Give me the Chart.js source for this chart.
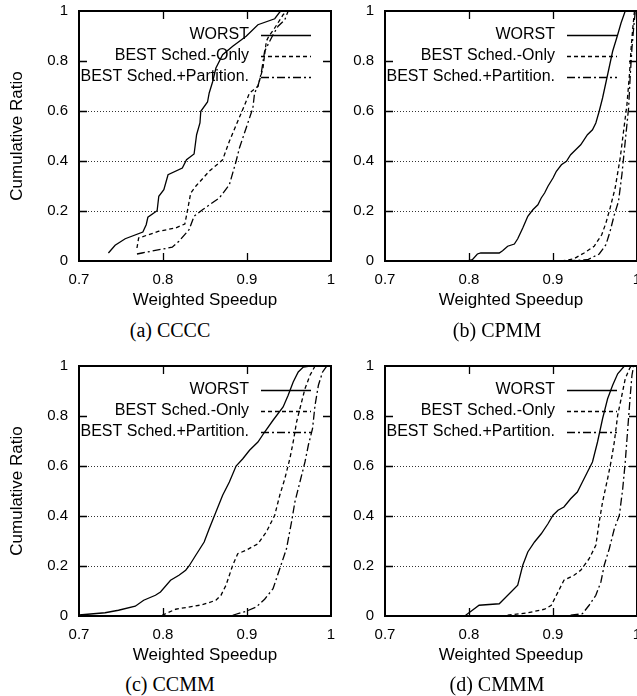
<!DOCTYPE html>
<html>
<head>
<meta charset="utf-8">
<script src="https://cdn.jsdelivr.net/npm/chart.js@4.4.1/dist/chart.umd.min.js"></script>
<style>
    html, body { margin: 0; padding: 0; background: #fff; }
    body { position: relative; width: 637px; height: 696px; overflow: hidden; }
    canvas { position: absolute; }
    .caption {
        position: absolute;
        font-family: "Liberation Serif", "Times New Roman", serif;
        font-size: 20px;
        line-height: 20px;
        color: #000;
        white-space: nowrap;
        transform: translateX(-50%);
    }
</style>
</head>
<body>
<canvas id="chartCCCC" width="342" height="311" style="left:0px;top:0px"></canvas>
<canvas id="chartCPMM" width="342" height="311" style="left:306px;top:0px"></canvas>
<canvas id="chartCCMM" width="342" height="311" style="left:0px;top:355px"></canvas>
<canvas id="chartCMMM" width="342" height="311" style="left:306px;top:355px"></canvas>
<div class="caption" style="left:170px;top:320px">(a) CCCC</div>
<div class="caption" style="left:497px;top:320px">(b) CPMM</div>
<div class="caption" style="left:170px;top:674px">(c) CCMM</div>
<div class="caption" style="left:497px;top:674px">(d) CMMM</div>
<script>
const xTicks = [0.7, 0.8, 0.9, 1];
const yTicks = [0, 0.2, 0.4, 0.6, 0.8, 1];
const gridValues = [0.2, 0.4, 0.6];
const seriesLabels = ['WORST', 'BEST Sched.-Only', 'BEST Sched.+Partition.'];

// (a) CCCC
const ccccWorst = [[0.735, 0.032], [0.743, 0.063], [0.755, 0.089], [0.776, 0.116], [0.780, 0.145], [0.782, 0.175],
    [0.793, 0.201], [0.795, 0.259], [0.801, 0.285], [0.806, 0.345], [0.823, 0.372], [0.828, 0.405], [0.837, 0.428],
    [0.840, 0.505], [0.844, 0.552], [0.845, 0.599], [0.853, 0.636], [0.855, 0.672], [0.859, 0.716], [0.863, 0.772],
    [0.871, 0.825], [0.883, 0.859], [0.899, 0.899], [0.913, 0.945], [0.933, 0.969], [0.939, 0.996], [0.941, 1]];
const ccccSchedOnly = [[0.769, 0.052], [0.771, 0.092], [0.795, 0.119], [0.815, 0.132], [0.826, 0.148], [0.829, 0.199],
    [0.833, 0.272], [0.839, 0.299], [0.855, 0.359], [0.871, 0.405], [0.879, 0.479], [0.889, 0.559], [0.899, 0.639],
    [0.903, 0.672], [0.913, 0.699], [0.919, 0.772], [0.923, 0.879], [0.926, 0.899], [0.933, 0.932], [0.943, 0.985],
    [0.947, 1]];
const ccccSchedPart = [[0.769, 0.028], [0.775, 0.032], [0.811, 0.055], [0.819, 0.079], [0.831, 0.125], [0.837, 0.179],
    [0.847, 0.205], [0.867, 0.252], [0.879, 0.305], [0.887, 0.399], [0.891, 0.452], [0.899, 0.532], [0.907, 0.612],
    [0.909, 0.672], [0.913, 0.699], [0.917, 0.752], [0.921, 0.839], [0.927, 0.879], [0.931, 0.905], [0.937, 0.939],
    [0.945, 0.965], [0.949, 1]];

// (b) CPMM
const cpmmWorst = [[0.798, 0], [0.804, 0.005], [0.810, 0.028], [0.814, 0.032], [0.836, 0.032], [0.840, 0.041],
    [0.846, 0.059], [0.854, 0.068], [0.858, 0.089], [0.864, 0.132], [0.870, 0.179], [0.876, 0.205], [0.882, 0.225],
    [0.886, 0.252], [0.890, 0.272], [0.894, 0.299], [0.900, 0.332], [0.904, 0.359], [0.910, 0.385], [0.916, 0.399],
    [0.921, 0.425], [0.927, 0.445], [0.933, 0.465], [0.941, 0.505], [0.947, 0.525], [0.951, 0.552], [0.955, 0.599],
    [0.959, 0.652], [0.965, 0.745], [0.971, 0.839], [0.977, 0.905], [0.981, 0.952], [0.986, 1]];
const cpmmSchedOnly = [[0.910, 0], [0.925, 0.009], [0.937, 0.032], [0.949, 0.059], [0.958, 0.105], [0.963, 0.152],
    [0.968, 0.212], [0.974, 0.292], [0.980, 0.412], [0.984, 0.519], [0.988, 0.625], [0.991, 0.745], [0.993, 0.852],
    [0.995, 0.932], [0.997, 1]];
const cpmmSchedPart = [[0.917, 0], [0.941, 0.005], [0.955, 0.028], [0.963, 0.065], [0.968, 0.119], [0.973, 0.185],
    [0.978, 0.239], [0.982, 0.345], [0.986, 0.479], [0.990, 0.612], [0.992, 0.745], [0.994, 0.852], [0.996, 0.932],
    [0.998, 1]];

// (c) CCMM
const ccmmWorst = [[0.700, 0.004], [0.731, 0.013], [0.747, 0.023], [0.767, 0.039], [0.777, 0.063], [0.791, 0.083],
    [0.797, 0.096], [0.809, 0.143], [0.819, 0.163], [0.827, 0.183], [0.831, 0.2], [0.839, 0.243], [0.849, 0.296],
    [0.855, 0.349], [0.863, 0.416], [0.871, 0.483], [0.879, 0.536], [0.887, 0.6], [0.895, 0.629], [0.903, 0.663],
    [0.913, 0.696], [0.921, 0.736], [0.931, 0.783], [0.943, 0.836], [0.949, 0.883], [0.955, 0.936], [0.961, 0.976],
    [0.967, 0.996], [0.975, 1]];
const ccmmSchedOnly = [[0.799, 0.003], [0.815, 0.027], [0.847, 0.045], [0.863, 0.063], [0.869, 0.083], [0.875, 0.123],
    [0.883, 0.203], [0.889, 0.249], [0.899, 0.263], [0.913, 0.289], [0.923, 0.336], [0.933, 0.403], [0.939, 0.483],
    [0.945, 0.549], [0.951, 0.629], [0.955, 0.696], [0.959, 0.776], [0.964, 0.843], [0.969, 0.909], [0.975, 0.963],
    [0.981, 1]];
const ccmmSchedPart = [[0.883, 0.003], [0.899, 0.019], [0.911, 0.036], [0.921, 0.067], [0.931, 0.109], [0.939, 0.189],
    [0.947, 0.269], [0.953, 0.376], [0.957, 0.456], [0.963, 0.536], [0.969, 0.616], [0.973, 0.683], [0.978, 0.749],
    [0.981, 0.843], [0.985, 0.923], [0.990, 0.976], [0.995, 1]];

// (d) CMMM
const cmmmWorst = [[0.796, 0.003], [0.804, 0.023], [0.812, 0.043], [0.836, 0.049], [0.842, 0.069], [0.850, 0.096],
    [0.858, 0.123], [0.864, 0.203], [0.870, 0.256], [0.878, 0.296], [0.886, 0.329], [0.894, 0.369], [0.900, 0.403],
    [0.906, 0.423], [0.913, 0.436], [0.921, 0.469], [0.929, 0.496], [0.935, 0.536], [0.941, 0.576], [0.947, 0.616],
    [0.953, 0.696], [0.959, 0.789], [0.965, 0.869], [0.971, 0.923], [0.977, 0.969], [0.985, 1]];
const cmmmSchedOnly = [[0.846, 0.003], [0.870, 0.013], [0.890, 0.027], [0.898, 0.043], [0.904, 0.083], [0.913, 0.143],
    [0.925, 0.163], [0.933, 0.183], [0.943, 0.229], [0.951, 0.283], [0.955, 0.376], [0.959, 0.456], [0.965, 0.549],
    [0.969, 0.616], [0.973, 0.696], [0.977, 0.803], [0.982, 0.883], [0.986, 0.949], [0.991, 0.989], [0.993, 1]];
const cmmmSchedPart = [[0.921, 0.003], [0.935, 0.009], [0.943, 0.043], [0.951, 0.083], [0.957, 0.136], [0.961, 0.203],
    [0.967, 0.269], [0.973, 0.349], [0.979, 0.403], [0.983, 0.509], [0.986, 0.616], [0.989, 0.749], [0.992, 0.883],
    [0.994, 0.963], [0.996, 1]];

const seriesDash = [[], [4, 3], [8, 3, 2, 3]];
const FONT = 'Liberation Sans, Arial, sans-serif';

// gnuplot-like box with inward tick marks on all four sides
const framePlugin = {
    id: 'frame',
    afterDatasetsDraw(chart) {
        const { ctx, chartArea: a, scales } = chart;
        ctx.save();
        ctx.strokeStyle = '#000';
        ctx.setLineDash([]);
        ctx.lineWidth = 1.3;
        ctx.beginPath();
        xTicks.slice(1, -1).forEach((v) => {
            const px = Math.round(scales.x.getPixelForValue(v)) + 0.5;
            ctx.moveTo(px, a.bottom); ctx.lineTo(px, a.bottom - 8);
            ctx.moveTo(px, a.top); ctx.lineTo(px, a.top + 8);
        });
        yTicks.slice(1, -1).forEach((v) => {
            const py = Math.round(scales.y.getPixelForValue(v)) + 0.5;
            ctx.moveTo(a.left, py); ctx.lineTo(a.left + 8, py);
            ctx.moveTo(a.right, py); ctx.lineTo(a.right - 8, py);
        });
        ctx.stroke();
        ctx.lineWidth = 2;
        ctx.strokeRect(a.left, a.top, a.right - a.left, a.bottom - a.top);
        ctx.restore();
    }
};

// key inside the plot, text right-aligned with the line sample on its right
const keyPlugin = {
    id: 'key',
    afterDraw(chart) {
        const { ctx, chartArea: a } = chart;
        ctx.save();
        ctx.font = '16px ' + FONT;
        ctx.fillStyle = '#000';
        ctx.textAlign = 'right';
        ctx.textBaseline = 'middle';
        chart.data.datasets.forEach((ds, i) => {
            const y = a.top + 24 + i * 21;
            ctx.fillText(ds.label, a.right - 82, y);
            ctx.strokeStyle = '#000';
            ctx.lineWidth = ds.borderWidth;
            ctx.setLineDash(ds.borderDash);
            ctx.beginPath();
            ctx.moveTo(a.right - 70, y + 0.5);
            ctx.lineTo(a.right - 20, y + 0.5);
            ctx.stroke();
        });
        ctx.restore();
    }
};

function makePanel(canvasId, series, showYTitle) {
    const canvas = document.getElementById(canvasId);
    return new Chart(canvas, {
        type: 'scatter',
        data: {
            datasets: series.map((pts, i) => ({
                label: seriesLabels[i],
                data: pts.map((p) => ({ x: p[0], y: p[1] })),
                showLine: true,
                borderColor: '#000',
                borderWidth: 1.3,
                borderDash: seriesDash[i],
                pointRadius: 0,
                tension: 0,
                fill: false
            }))
        },
        options: {
            responsive: false,
            animation: false,
            events: [],
            layout: { padding: { top: 11, right: 11, bottom: 0, left: 0 } },
            plugins: { legend: { display: false }, tooltip: { enabled: false } },
            scales: {
                x: {
                    type: 'linear',
                    min: 0.7,
                    max: 1,
                    afterBuildTicks: (s) => { s.ticks = xTicks.map((v) => ({ value: v })); },
                    afterFit: (s) => { s.height = 50; s.paddingLeft = 0; s.paddingRight = 0; },
                    ticks: {
                        color: '#000', padding: 10, maxRotation: 0,
                        font: { family: FONT, size: 15 },
                        callback: (v) => String(v)
                    },
                    grid: { display: false, drawTicks: false },
                    border: { display: false },
                    title: {
                        display: true, text: 'Weighted Speedup', color: '#000',
                        font: { family: FONT, size: 17 }, padding: { top: 0, bottom: 0 }
                    }
                },
                y: {
                    type: 'linear',
                    min: 0,
                    max: 1,
                    afterBuildTicks: (s) => { s.ticks = yTicks.map((v) => ({ value: v })); },
                    afterFit: (s) => { s.width = 79; s.paddingTop = 0; s.paddingBottom = 0; },
                    ticks: {
                        color: '#000', padding: 11,
                        font: { family: FONT, size: 15 },
                        callback: (v) => String(v)
                    },
                    grid: {
                        drawTicks: false,
                        lineWidth: 1,
                        borderDash: [1, 2],
                        color: (c) => (c.tick && gridValues.includes(c.tick.value) ? '#333' : 'rgba(0,0,0,0)')
                    },
                    border: { display: false, dash: [1, 2] },
                    title: {
                        display: showYTitle, text: 'Cumulative Ratio', color: '#000',
                        font: { family: FONT, size: 17 }, padding: { top: 7, bottom: 0 }
                    }
                }
            }
        },
        plugins: [framePlugin, keyPlugin]
    });
}

makePanel('chartCCCC', [ccccWorst, ccccSchedOnly, ccccSchedPart], true);
makePanel('chartCPMM', [cpmmWorst, cpmmSchedOnly, cpmmSchedPart], false);
makePanel('chartCCMM', [ccmmWorst, ccmmSchedOnly, ccmmSchedPart], true);
makePanel('chartCMMM', [cmmmWorst, cmmmSchedOnly, cmmmSchedPart], false);
</script>
</body>
</html>
